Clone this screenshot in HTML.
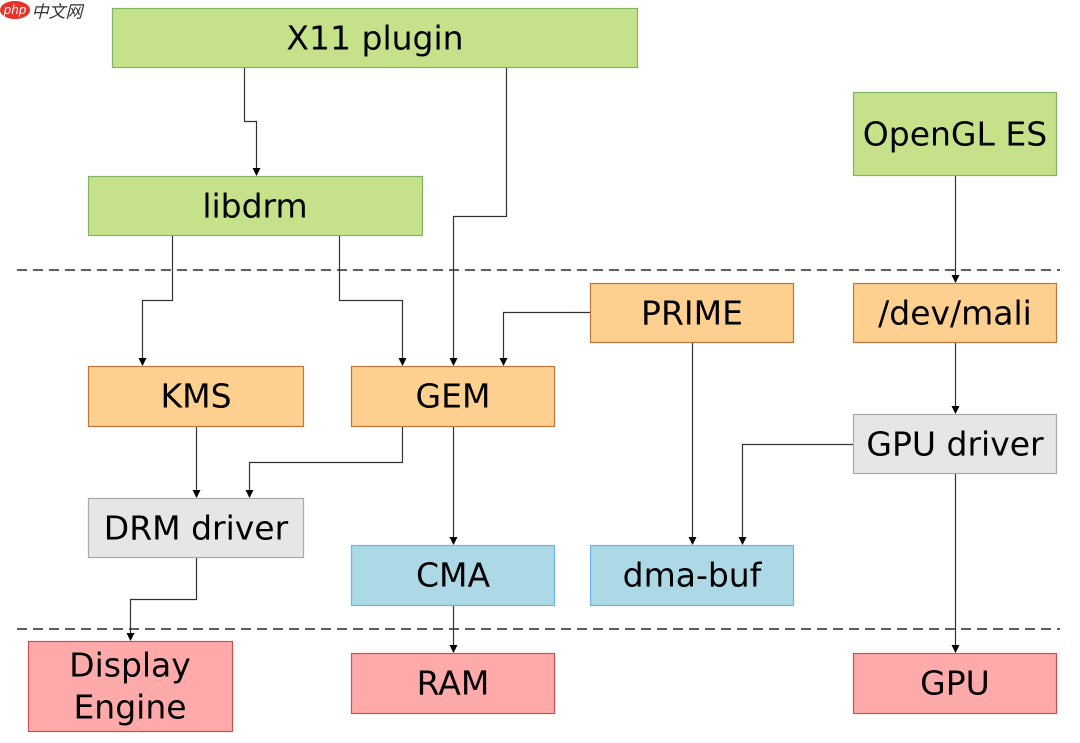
<!DOCTYPE html>
<html><head><meta charset="utf-8"><style>
html,body{margin:0;padding:0;background:#fff;}
svg text{font-family:"DejaVu Sans","Liberation Sans",sans-serif;font-size:33px;fill:#000;text-anchor:middle;dominant-baseline:central;}
</style></head><body>
<svg width="1080" height="738" viewBox="0 0 1080 738" xmlns="http://www.w3.org/2000/svg">
<defs><marker id="a" markerWidth="8" markerHeight="8" refX="4" refY="7" orient="0" markerUnits="userSpaceOnUse"><path d="M0,0 L8,0 L4,8 z" fill="#000"/></marker></defs>
<ellipse cx="15" cy="10" rx="15" ry="9" fill="#e8332a"/>
<text x="15" y="10" style="font-size:12px;fill:#fff;font-style:italic">php</text>
<text x="57" y="10" style="font-size:17px;fill:#333;font-family:'Noto Sans CJK SC',sans-serif;font-style:italic">中文网</text>
<line x1="17" y1="270" x2="1060" y2="270" stroke="#000" stroke-width="1.3" stroke-dasharray="10,6"/>
<line x1="17" y1="629" x2="1060" y2="629" stroke="#000" stroke-width="1.3" stroke-dasharray="10,6"/>
<g fill="none" stroke="#333" stroke-width="1.2" marker-end="url(#a)">
<path d="M244.5,67 V121.5 H256.5 V175"/>
<path d="M506.5,67 V216.5 H453.5 V365"/>
<path d="M172.5,235 V300.5 H142.5 V365"/>
<path d="M339.5,235 V300.5 H402.5 V365"/>
<path d="M590,312.5 H503.5 V365"/>
<path d="M955.5,175 V282"/>
<path d="M955.5,342 V413"/>
<path d="M853,444.5 H742.5 V544"/>
<path d="M692.5,342 V544"/>
<path d="M196.5,426 V497"/>
<path d="M402.5,426 V462.5 H249.5 V497"/>
<path d="M453.5,426 V544"/>
<path d="M453.5,605 V652"/>
<path d="M196.5,557 V599.5 H130.5 V640"/>
<path d="M955.5,473 V652"/>
</g>
<g stroke-width="1.2">
<g fill="#c5e28b" stroke="#82b366">
<rect x="112.5" y="8.5" width="525" height="59"/>
<rect x="853.5" y="92.5" width="203" height="83"/>
<rect x="88.5" y="176.5" width="334" height="59"/>
</g>
<g fill="#fdd08f" stroke="#c0763a">
<rect x="590.5" y="283.5" width="203" height="59"/>
<rect x="853.5" y="283.5" width="203" height="59"/>
<rect x="88.5" y="366.5" width="215" height="60"/>
<rect x="351.5" y="366.5" width="203" height="60"/>
</g>
<g fill="#e6e6e6" stroke="#aaaaaa">
<rect x="853.5" y="414.5" width="203" height="59"/>
<rect x="88.5" y="498.5" width="215" height="59"/>
</g>
<g fill="#add8e6" stroke="#6cb4f0">
<rect x="351.5" y="545.5" width="203" height="60"/>
<rect x="590.5" y="545.5" width="203" height="60"/>
</g>
<g fill="#ffaaaa" stroke="#c85050">
<rect x="28.5" y="641.5" width="204" height="90"/>
<rect x="351.5" y="653.5" width="203" height="60"/>
<rect x="853.5" y="653.5" width="203" height="60"/>
</g>
</g>
<text x="375" y="38">X11 plugin</text>
<text x="955" y="134">OpenGL ES</text>
<text x="255" y="206">libdrm</text>
<text x="692" y="313">PRIME</text>
<text x="955" y="313">/dev/mali</text>
<text x="196" y="396">KMS</text>
<text x="453" y="396">GEM</text>
<text x="955" y="444">GPU driver</text>
<text x="196" y="528">DRM driver</text>
<text x="453" y="575">CMA</text>
<text x="692" y="575">dma-buf</text>
<text x="130" y="665">Display</text>
<text x="130" y="707">Engine</text>
<text x="453" y="683">RAM</text>
<text x="955" y="683">GPU</text>
</svg>
</body></html>
